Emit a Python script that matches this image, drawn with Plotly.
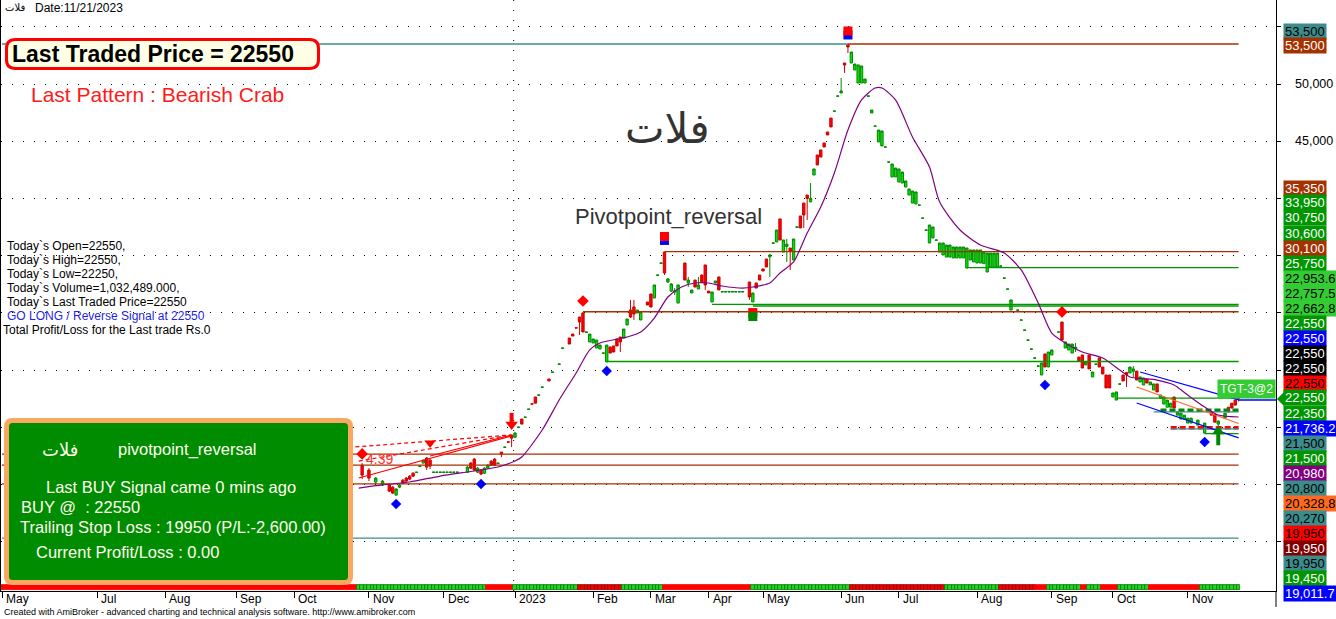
import plotly.graph_objects as go

# ================= DATA =================
bar_no = [
    106, 108, 110, 112, 114, 115, 116, 117, 118, 119,
    120, 121, 122, 123, 124, 125, 126, 127, 128, 129,
    130, 131, 132, 133, 134, 137, 138, 139, 140, 141,
    142, 143, 144, 145, 146, 147, 148, 149, 150, 151,
    152, 153, 154, 155, 156, 157, 158, 159, 161, 162,
    164, 165, 167, 168, 169, 170, 171, 172, 173, 174,
    175, 176, 177, 178, 179, 180, 181, 182, 183, 184,
    185, 186, 187, 188, 190, 191, 192, 193, 194, 195,
    196, 197, 198, 199, 201, 202, 203, 204, 205, 206,
    207, 208, 209, 210, 211, 212, 213, 214, 215, 216,
    217, 218, 220, 221, 222, 223, 224, 225, 226, 227,
    228, 229, 230, 231, 232, 233, 234, 235, 236, 237,
    238, 239, 240, 241, 242, 243, 244, 245, 246, 247,
    248, 249, 250, 251, 252, 253, 254, 255, 256, 257,
    258, 259, 260, 261, 262, 263, 264, 265, 266, 267,
    268, 269, 270, 271, 272, 273, 274, 275, 276, 277,
    278, 279, 280, 281, 282, 283, 284, 285, 286, 287,
    288, 289, 290, 291, 292, 293, 294, 295, 296, 297,
    299, 300, 301, 302, 303, 304, 305, 306, 307, 308,
    309, 311, 312, 313, 314, 315, 316, 317, 318, 319,
    320, 321, 322, 323, 324, 325, 326, 327, 328, 329,
    330, 331, 332, 333, 334, 335, 336, 337, 338, 339,
    340, 341, 342, 343, 344, 345, 346, 347, 348, 349,
    350, 352, 354, 356, 357, 358, 360, 361, 362, 363,
    364]

open_px = [
    16690, 16260, 15210, 14950, 14950, 14770, 14070, 14770, 15380, 15560,
    15730, 15990, 16040, 16570, 16870, 17310, 17130, 16060, 16060, 16060,
    16060, 16060, 16060, 16060, 16060, 16080, 16870, 17220, 16080, 16260,
    15990, 16430, 17040, 17220, 16840, 17830, 18240, 18730, 19320, 19140,
    19990, 20720, 20860, 21560, 22050, 22650, 22790, 23490, 24220, 24800,
    25500, 26900, 27800, 28150, 28700, 29640, 29990, 28300, 27460, 27370,
    26930, 26840, 26470, 25710, 27020, 27110, 27720, 27890, 27800, 28940,
    30250, 30510, 29990, 29380, 30950, 31650, 31300, 33280, 34330, 35320,
    32700, 31910, 31820, 30860, 34360, 32610, 31740, 32870, 32090, 33310,
    34190, 31910, 30950, 32610, 33140, 31830, 31830, 31830, 31830, 31830,
    31830, 31830, 32700, 30950, 32610, 33310, 33840, 34710, 34900, 36080,
    36200, 38210, 35320, 35800, 35670, 34620, 37480, 38470, 39600, 40300,
    39700, 42050, 43800, 44240, 44850, 45810, 47030, 47620, 48930, 49220,
    51840, 53410, 51840, 51230, 50090, 50090, 50090, 48930, 47470, 46310,
    44940, 44590, 44480, 43170, 41880, 41880, 41440, 41350, 41000, 40300,
    39600, 39520, 39410, 38270, 37220, 36110, 36550, 36350, 35320, 35060,
    34880, 34880, 34800, 34800, 34800, 34800, 33920, 34620, 34450, 34360,
    34360, 34300, 33570, 34010, 34010, 34010, 34080, 33030, 32070, 30250,
    30230, 29360, 28480, 27610, 26820, 26040, 25340, 24570, 26410, 25270,
    26320, 28310, 29200, 26930, 26760, 26490, 26850, 26140, 26320, 25450,
    26320, 24400, 25510, 26060, 25270, 24570, 24570, 22650, 22380, 23770,
    24570, 24800, 24750, 24900, 24910, 23960, 23700, 24220, 23700, 23260,
    23790, 22550, 22030, 21760, 21760, 22650, 21060, 20720, 20720, 20370,
    20370, 20190, 19490, 21330, 21150, 20280, 20800, 21760, 22110, 22380,
    22550]

high_px = [
    16870, 16430, 15650, 15380, 15030, 14860, 14680, 15030, 15470, 15650,
    15820, 16080, 16080, 16610, 17130, 17390, 17220, 16080, 16080, 16080,
    16080, 16080, 16080, 16080, 16080, 16610, 16960, 17310, 16520, 16350,
    16520, 16780, 17130, 17310, 16870, 17830, 18270, 18730, 19320, 19580,
    20020, 20720, 20890, 21590, 22050, 22650, 22820, 23520, 24220, 24830,
    25530, 26930, 27800, 28150, 28700, 29640, 30080, 28330, 28150, 27720,
    27630, 27190, 26490, 27190, 27020, 27110, 27720, 27890, 28590, 29470,
    31130, 31130, 30250, 30080, 30950, 31650, 32440, 33310, 34360, 35320,
    33050, 32610, 32170, 32440, 34360, 33140, 32000, 32870, 33140, 33310,
    34190, 31910, 31820, 32790, 33140, 31850, 31850, 31850, 31850, 31850,
    31850, 31850, 32700, 31740, 32610, 33310, 33840, 34710, 35150, 36110,
    37240, 38210, 36370, 36460, 35670, 36460, 37510, 38470, 39600, 40300,
    41350, 42580, 43800, 44240, 44850, 45810, 47030, 47640, 48960, 50530,
    51840, 53500, 52800, 51750, 51670, 51580, 50440, 48960, 47730, 46330,
    45980, 45900, 44500, 43190, 43010, 42660, 42580, 42310, 41530, 40830,
    40650, 40570, 39430, 38290, 37240, 37680, 37510, 36370, 36110, 36110,
    35930, 35930, 35760, 35760, 35760, 35760, 35670, 35500, 35500, 35500,
    35500, 35300, 35230, 35230, 35230, 35230, 34100, 33050, 32090, 31130,
    30250, 29380, 28500, 27630, 26840, 26060, 25360, 25620, 26410, 26580,
    26760, 28330, 29200, 27460, 27280, 27280, 27370, 26140, 26320, 25710,
    26320, 24830, 25530, 26060, 25270, 24570, 24570, 23000, 23090, 23790,
    24570, 24830, 25270, 25360, 24910, 24400, 24310, 24220, 23960, 23790,
    23790, 22820, 22650, 22380, 22110, 22650, 21330, 21240, 21060, 20800,
    20800, 20630, 20370, 21330, 21150, 20600, 21240, 21760, 22110, 22380,
    22550]

low_px = [
    15470, 15300, 15030, 14860, 14340, 14160, 14070, 14680, 15030, 15210,
    15380, 15650, 16040, 16570, 16870, 16260, 16350, 16060, 16060, 16060,
    16060, 16060, 16060, 16060, 16060, 16000, 16350, 16170, 15990, 15820,
    15910, 16350, 16610, 16610, 16840, 17390, 18240, 18700, 18270, 19050,
    19990, 20280, 20860, 21560, 22030, 22110, 22790, 23490, 24050, 24800,
    25500, 26900, 27280, 27980, 28680, 28070, 28330, 28300, 27460, 27370,
    26930, 26840, 26470, 25710, 26490, 26580, 27110, 26580, 27800, 28940,
    29550, 29380, 29990, 29380, 30690, 30510, 31300, 33280, 34330, 33310,
    32610, 31820, 31560, 30860, 32870, 32260, 31740, 32260, 32090, 32700,
    32000, 31740, 30950, 32610, 32000, 31830, 31830, 31830, 31830, 31830,
    31830, 31830, 31130, 30950, 32170, 32870, 33660, 34010, 33140, 36080,
    36200, 36370, 35320, 34450, 33750, 34620, 37480, 37420, 37420, 38120,
    39690, 42050, 42930, 43620, 44500, 45550, 46250, 47620, 48930, 49220,
    50970, 52710, 51840, 51230, 50090, 50090, 50090, 48930, 47470, 46310,
    44940, 44590, 44480, 43170, 41880, 41880, 41440, 41350, 41000, 40300,
    39600, 39520, 39410, 38270, 37220, 36110, 36550, 36350, 35320, 35060,
    34880, 34880, 34800, 34800, 34800, 34800, 33920, 34620, 34450, 34360,
    34360, 34300, 33570, 34010, 34010, 34010, 34080, 33030, 32070, 30250,
    30230, 29360, 28480, 27610, 26820, 26040, 25340, 24570, 25270, 25270,
    26320, 28310, 27630, 26930, 26760, 26490, 26580, 25800, 25180, 25450,
    25100, 24400, 25510, 25270, 24660, 23440, 23440, 22650, 22380, 23770,
    24050, 23520, 24750, 24400, 24130, 23960, 23700, 23870, 23700, 23260,
    23090, 22550, 22030, 21760, 21760, 21680, 21060, 20720, 20720, 20370,
    20370, 20190, 19490, 21060, 20450, 19320, 20800, 21330, 21680, 21940,
    22250]

close_px = [
    15820, 15560, 15560, 15300, 14420, 14250, 14600, 14950, 15120, 15300,
    15470, 15730, 16080, 16610, 17130, 16520, 16610, 16080, 16080, 16080,
    16080, 16080, 16080, 16080, 16080, 16520, 16430, 16260, 16430, 15910,
    16430, 16690, 16690, 16690, 16870, 17660, 18270, 18700, 19050, 19490,
    20020, 20280, 20890, 21590, 22030, 22110, 22820, 23520, 24050, 24830,
    25530, 26930, 27280, 27980, 28680, 29200, 28330, 28330, 28150, 27720,
    27630, 27190, 26490, 27190, 26490, 26580, 27110, 27460, 28590, 29470,
    29640, 29900, 30250, 30080, 30690, 30510, 32440, 33310, 34360, 33490,
    32960, 32520, 31910, 32440, 32870, 32870, 32000, 32260, 32440, 32700,
    32440, 31740, 31820, 32790, 32000, 31850, 31850, 31850, 31850, 31850,
    31850, 31850, 31390, 31740, 32170, 32870, 33660, 34010, 35060, 36110,
    37240, 36370, 36370, 36000, 35400, 36460, 37510, 37420, 38560, 40000,
    40000, 42580, 42930, 43620, 44500, 45550, 46250, 47640, 48960, 49400,
    51660, 53240, 52800, 51750, 51670, 51580, 50440, 48960, 47730, 46330,
    45980, 45900, 44500, 43190, 43010, 42660, 42580, 42310, 41530, 40830,
    40650, 40570, 39430, 38290, 37240, 37680, 37510, 36370, 36110, 36110,
    35930, 35930, 35760, 35760, 35760, 35760, 35670, 35500, 35500, 35500,
    35500, 35300, 35230, 35230, 35230, 35230, 34100, 33050, 32090, 31130,
    30250, 29380, 28500, 27630, 26840, 26060, 25360, 25620, 25270, 26580,
    26760, 28330, 27630, 27460, 27280, 27280, 27000, 25800, 25180, 25710,
    25100, 24830, 25530, 25270, 24660, 23440, 23440, 23000, 23090, 23790,
    24050, 24600, 25270, 25100, 24130, 24400, 24310, 23870, 23960, 23790,
    23090, 22820, 22650, 22380, 22110, 21680, 21330, 21240, 21060, 20800,
    20800, 20630, 20370, 21060, 20450, 20540, 21240, 21330, 21680, 21940,
    22550]

# month tick positions (bar numbers) and labels
month_bar = [0, 28, 48, 69, 86, 108, 130, 151, 174, 191, 208, 224, 247, 264, 287, 309, 327, 349]
month_lbl = ["May", "Jul", "Aug", "Sep", "Oct", "Nov", "Dec", "2023", "Feb", "Mar",
             "Apr", "May", "Jun", "Jul", "Aug", "Sep", "Oct", "Nov"]
year_bar = 150.6

# price axis: gridline values and the two visible tick labels
grid_vals = [10000, 15000, 20000, 25000, 30000, 35000, 40000, 45000, 50000, 55000]
shown_ticks = [50000, 45000]

# moving average (purple)
ma_bar = [105, 112, 120, 129, 139, 146, 151, 153, 159, 164,
          169, 173, 176, 184, 188, 192, 196, 200, 204, 208,
          212, 218, 221, 226, 229, 233, 237, 241, 245, 249,
          253, 257, 259, 263, 268, 273, 276, 282, 288, 295,
          300, 305, 309, 313, 318, 324, 329, 332, 340, 345,
          349, 354, 358, 364]
ma_val = [14690, 14960, 15220, 15740, 16180, 16530, 17050, 17400, 19760, 22390,
          24750, 26760, 27370, 27890, 28330, 29550, 31390, 32260, 32610, 32610,
          32350, 32170, 32260, 32610, 33490, 34450, 36980, 39250, 42230, 45980,
          48610, 49650, 49650, 48610, 45370, 42750, 39690, 37240, 35930, 35230,
          33750, 30860, 28240, 27370, 26580, 26060, 25010, 24400, 24130, 23700,
          22820, 21770, 21070, 20900]

# horizontal support / resistance levels
level_val = [53500, 53500, 35350, 33950, 30750, 30600, 30100, 25750, 22550, 17650, 16700, 15050, 10320]
level_from = [0, 249, 195, 284, 209, 221, 171, 178, 328, 0, 0, 0, 0]
level_to = [249, 364, 364, 364, 364, 364, 364, 364, 364, 364, 364, 364, 364]
level_kind = ["teal", "brown", "brown", "green", "green", "green", "brown", "green", "green",
              "brown", "brown", "brown", "teal"]

# recent short levels
recent_val = [21500, 19950, 19450, 21340, 19860]
recent_from = [341, 344, 354, 339, 344]
recent_kind = ["gdash", "rdash", "green", "teal", "teal"]

# pattern trend lines (Nov-Dec 2022)
trend_b0 = [105, 126, 104, 105]
trend_v0 = [15570, 17490, 18280, 17050]
trend_b1 = [150, 150, 150, 148]
trend_v1 = [19240, 19330, 19330, 19240]
trend_dash = ["solid", "solid", "4px,3px", "4px,3px"]

# channel lines at the end
chan_b0 = [334, 335, 334]
chan_v0 = [23520, 24830, 22120]
chan_b1 = [364, 364, 364]
chan_v1 = [20330, 22390, 19070]
chan_col = ["#FF6A1F", "#0000FF", "#0000FF"]

# signal markers
pl_bar = [116, 141, 178, 307, 354]
pl_val = [13290, 15040, 24920, 23700, 18710]
ph_bar = [106, 171, 312]
ph_val = [17670, 31040, 30080]
ph2_bar = [126]
ph2_val = [18630]
piv_bar = [195, 249]
piv_red = [36680, 54640]
piv_blue = [36330, 54290]
buybox_bar = [221]
buybox_red = [30030]
buybox_green = [29680]
sell_arrow_bar = [150]
sell_arrow_head = [20250]
sell_arrow_shaft = [20770]
buy_arrow_bar = [358]
buy_arrow_head = [19630]
buy_arrow_shaft = [18980]

# regime strip
regime_start = [0, 105, 143, 151, 170, 183, 195, 221, 250, 278, 294, 305, 308, 318, 320, 324, 329, 338, 353]
regime_state = ["R", "G", "R", "G", "D", "G", "R", "G", "D", "G", "D", "R", "G", "R", "G", "R", "G", "R", "G"]
last_bar = 364

# right-side value labels
label_text = ["53,500", "53,500", "35,350", "33,950", "30,750", "30,600", "30,100", "25,750",
              "22,953.6", "22,757.5", "22,662.8", "22,550", "22,550", "22,550", "22,550", "22,550",
              "22,550", "22,350", "21,736.2", "21,500", "21,500", "20,980", "20,800", "20,328.8",
              "20,270", "19,950", "19,950", "19,950", "19,450", "19,011.7"]
label_bg = ["#3C8C8C", "#A33200", "#A33200", "#009600", "#009600", "#009600", "#A33200", "#009600",
            "#33CC33", "#33CC33", "#33CC33", "#009600", "#0000FF", "#000000", "#000000", "#FF0000",
            "#009600", "#009600", "#0000FF", "#3C8C8C", "#009600", "#800080", "#3C8C8C", "#FF6A1F",
            "#3C8C8C", "#FF0000", "#800000", "#3C8C8C", "#009600", "#0000FF"]
label_fg = ["#000000", "#FFFFFF", "#FFFFFF", "#FFFFFF", "#FFFFFF", "#FFFFFF", "#FFFFFF", "#FFFFFF",
            "#000000", "#000000", "#000000", "#FFFFFF", "#FFFFFF", "#FFFFFF", "#FFFFFF", "#000000",
            "#FFFFFF", "#FFFFFF", "#FFFFFF", "#000000", "#FFFFFF", "#FFFFFF", "#000000", "#000000",
            "#000000", "#000000", "#FFFFFF", "#000000", "#FFFFFF", "#FFFFFF"]

info_lines = ["Today`s Open=22550,", "Today`s High=22550,", "Today`s Low=22250,",
              "Today`s Volume=1,032,489.000,", "Today`s Last Traded Price=22550",
              "GO LONG / Reverse Signal at 22550", "Total Profit/Loss for the Last trade Rs.0"]

# ================= LAYOUT HELPERS =================
W, H = 1336, 619
ML, MR, MT, MB = 1, 60, 0, 28
PW = W - ML - MR
PH = H - MT - MB
SANS = "Liberation Sans, Arial, sans-serif"
ARAB = "DejaVu Sans, Noto Sans, sans-serif"
BROWN, GREEN, TEAL = "#A33200", "#009600", "#3C8C8C"


def px(x):
    return (x - ML) / PW


def py(y):
    return 1 - (y - MT) / PH


def rrect(x0, y0, x1, y1, r):
    return (f"M {px(x0 + r)},{py(y0)} L {px(x1 - r)},{py(y0)} "
            f"Q {px(x1)},{py(y0)} {px(x1)},{py(y0 + r)} L {px(x1)},{py(y1 - r)} "
            f"Q {px(x1)},{py(y1)} {px(x1 - r)},{py(y1)} L {px(x0 + r)},{py(y1)} "
            f"Q {px(x0)},{py(y1)} {px(x0)},{py(y1 - r)} L {px(x0)},{py(y0 + r)} "
            f"Q {px(x0)},{py(y0)} {px(x0 + r)},{py(y0)} Z")


fig = go.Figure()

# ---- regime strip ----
strip_bars = list(range(last_bar + 1))
states = []
for b in strip_bars:
    s = regime_state[0]
    for st, stt in zip(regime_start, regime_state):
        if b >= st:
            s = stt
    states.append(s)
fill_map = {"G": "#22D422", "D": "#EE0000", "R": "#FF0000"}
edge_map = {"G": "#007A00", "D": "#990000", "R": "#FF0000"}
fig.add_trace(go.Bar(x=strip_bars, y=[436] * len(strip_bars), base=5780, width=1.0,
                     marker=dict(color=[fill_map[s] for s in states],
                                 line=dict(color=[edge_map[s] for s in states], width=0.8)),
                     hoverinfo="skip"))

# ---- levels ----
kind_col = {"teal": TEAL, "brown": BROWN, "green": GREEN}
for kind in ["teal", "brown", "green"]:
    xs, ys = [], []
    for i in range(len(level_val)):
        if level_kind[i] == kind:
            xs += [level_from[i], level_to[i], None]
            ys += [level_val[i], level_val[i], None]
    fig.add_trace(go.Scatter(x=xs, y=ys, mode="lines", line=dict(color=kind_col[kind], width=1.3),
                             hoverinfo="skip"))

recent_style = {"gdash": ("#008800", 3.5, "6px,3px"), "rdash": ("#FF0000", 3.5, "6px,3px"),
                "green": (GREEN, 1.3, "solid"), "teal": (TEAL, 1.3, "solid")}
for i in range(len(recent_val)):
    c, w, d = recent_style[recent_kind[i]]
    fig.add_trace(go.Scatter(x=[recent_from[i], last_bar], y=[recent_val[i], recent_val[i]], mode="lines",
                             line=dict(color=c, width=w, dash=d), hoverinfo="skip"))

for i in range(len(chan_b0)):
    fig.add_trace(go.Scatter(x=[chan_b0[i], chan_b1[i]], y=[chan_v0[i], chan_v1[i]], mode="lines",
                             line=dict(color=chan_col[i], width=1.2), hoverinfo="skip"))
fig.add_trace(go.Scatter(x=[chan_b1[1], 375], y=[chan_v1[1], chan_v1[1]], mode="lines",
                         line=dict(color="#0000FF", width=1.5), hoverinfo="skip"))

for i in range(len(trend_b0)):
    fig.add_trace(go.Scatter(x=[trend_b0[i], trend_b1[i]], y=[trend_v0[i], trend_v1[i]], mode="lines",
                             line=dict(color="#FF0000", width=1.2, dash=trend_dash[i]), hoverinfo="skip"))

# ---- moving average ----
fig.add_trace(go.Scatter(x=ma_bar, y=ma_val, mode="lines",
                         line=dict(color="#800080", width=1.2, shape="spline", smoothing=0.7),
                         hoverinfo="skip"))

# ---- candles ----
up_i = [i for i in range(len(bar_no)) if close_px[i] > open_px[i]]
dn_i = [i for i in range(len(bar_no)) if close_px[i] <= open_px[i]]


def sub(lst, idx):
    return [lst[i] for i in idx]


for idx, fill, edge in [(up_i, "#10DD10", "#008A00"), (dn_i, "#FF0000", "#D00000")]:
    style = dict(fillcolor=fill, line=dict(color=edge, width=1))
    fig.add_trace(go.Candlestick(x=sub(bar_no, idx), open=sub(open_px, idx), high=sub(high_px, idx),
                                 low=sub(low_px, idx), close=sub(close_px, idx),
                                 increasing=style, decreasing=style, whiskerwidth=0,
                                 hoverinfo="skip"))

# ---- markers ----
def mk(x, y, symbol, size, color, lw=0, lc=None):
    fig.add_trace(go.Scatter(x=x, y=y, mode="markers", hoverinfo="skip",
                             marker=dict(symbol=symbol, size=size, color=color,
                                         line=dict(width=lw, color=lc or color))))


mk(pl_bar, pl_val, "diamond", 8, "#0000FF")
mk(ph_bar, ph_val, "diamond", 9, "#FF0000")
mk(ph2_bar, ph2_val, "triangle-down", 10, "#FF0000")
mk(piv_bar, piv_blue, "square", 9, "#0000FF")
mk(piv_bar, piv_red, "square", 9, "#FF0000")
mk(buybox_bar, buybox_red, "square", 9, "#FF0000")
mk(buybox_bar, buybox_green, "square", 9, "#008800")
mk(sell_arrow_bar, sell_arrow_shaft, "line-ns", 8, "#FF0000", 4, "#FF0000")
mk(sell_arrow_bar, sell_arrow_head, "triangle-down", 11, "#FF0000")
mk(buy_arrow_bar, buy_arrow_shaft, "line-ns", 9, "#008800", 4, "#008800")
mk(buy_arrow_bar, buy_arrow_head, "triangle-up", 11, "#008800")

# ---- shapes ----
shapes = [
    dict(type="line", xref="x", yref="paper", x0=year_bar, x1=year_bar, y0=0, y1=1,
         line=dict(color="black", width=1, dash="1px,9px"), layer="below"),
    dict(type="line", xref="paper", yref="paper", x0=px(1276), x1=px(1276), y0=py(591), y1=py(607),
         line=dict(color="black", width=1)),
    dict(type="path", xref="paper", yref="paper", path=rrect(6.5, 39.5, 318.5, 68.5, 9),
         fillcolor="#FFFFE6", line=dict(color="#FF0000", width=3), layer="above"),
    dict(type="path", xref="paper", yref="paper", path=rrect(6.5, 420.5, 350.5, 582.5, 6),
         fillcolor="#008C00", line=dict(color="#F8A860", width=5), layer="above"),
    dict(type="path", xref="paper", yref="paper",
         path=f"M {px(1277)},{py(399)} L {px(1284)},{py(392)} L {px(1284)},{py(406)} Z",
         fillcolor=GREEN, line=dict(width=0), layer="above"),
]

# ---- annotations ----
ann = []


def note(text, x, y, size, color, family=SANS, anchor="left", bg=None, pad=0, height=None):
    d = dict(text=text, xref="paper", yref="paper", x=px(x), y=py(y), xanchor=anchor,
             yanchor="middle", showarrow=False, font=dict(size=size, color=color, family=family),
             borderpad=pad)
    if bg:
        d["bgcolor"] = bg
    if height:
        d["height"] = height
    ann.append(d)


note("فلات", 4, 8, 10, "black", ARAB)
note("Date:11/21/2023", 34, 8, 12, "black")
note("<b>Last Traded Price = 22550</b>", 11, 54, 23, "black")
note("Last Pattern : Bearish Crab", 30, 95, 21, "#FF1A1A")
note("فلات", 667, 128, 42, "#333333", ARAB, anchor="center")
note("Pivotpoint_reversal", 574, 216, 22, "#333333")
for i, t in enumerate(info_lines):
    col = "#1F1FE8" if t.startswith("GO LONG") else "black"
    note(t, 2 if t.startswith("Total") else 6, 246 + 14 * i, 12, col)

box_fg = "#FFFFEE"
note("فلات", 60, 449, 18, box_fg, ARAB, anchor="center")
note("pivotpoint_reversal", 117, 449, 16.5, box_fg)
note("Last BUY Signal came 0 mins ago", 45, 487, 16.5, box_fg)
note("BUY @\u00a0 : 22550", 20, 507, 16.5, box_fg)
note("Trailing Stop Loss : 19950 (P/L:-2,600.00)", 19, 527, 16.5, box_fg)
note("Current Profit/Loss : 0.00", 35, 552, 16.5, box_fg)

note("Created with AmiBroker - advanced charting and technical analysis software. http://www.amibroker.com",
     3, 612, 9, "black")

# month labels
for b, t in zip(month_bar, month_lbl):
    ann.append(dict(text=t, xref="x", yref="paper", x=b, y=py(599), xanchor="left", yanchor="middle",
                    xshift=2, showarrow=False, font=dict(size=12, color="black", family=SANS)))

# visible price-axis tick labels
for v in shown_ticks:
    ann.append(dict(text=f"{v:,}", xref="paper", yref="y", x=px(1293), y=v, xanchor="left",
                    yanchor="middle", showarrow=False, font=dict(size=12.5, color="black", family=SANS)))

# "4.39" label
ann.append(dict(text="4.39", xref="x", yref="y", x=111, y=17230, showarrow=False,
                font=dict(size=14, color="#FF3030", family=SANS)))

# TGT label
note("TGT-3@2", 1276, 389, 12, "white", anchor="right", bg="#33CC33", pad=2)

# right value labels (stacked)
label_y = [31, 46] + [188 + 15 * i for i in range(len(label_text) - 2)]
for t, bg, fg, yy in zip(label_text, label_bg, label_fg, label_y):
    note(t, 1283, yy, 13, fg, bg=bg, pad=1, height=13)

fig.update_layout(
    width=W, height=H, margin=dict(l=ML, r=MR, t=MT, b=MB),
    plot_bgcolor="white", paper_bgcolor="white", showlegend=False,
    font=dict(family=SANS, size=12, color="black"),
    boxgap=0.0, bargap=0,
    shapes=shapes, annotations=ann,
    xaxis=dict(range=[-0.3, 375], tickvals=month_bar, showticklabels=False, ticks="outside",
               ticklen=6, tickcolor="black", showline=True, mirror=True, linecolor="black",
               linewidth=1, showgrid=False, zeroline=False, rangeslider=dict(visible=False),
               fixedrange=True),
    yaxis=dict(side="right", range=[5692, 57346], tickvals=grid_vals, showticklabels=False,
               ticks="outside", ticklen=4, tickcolor="black", showline=True,
               mirror=True, linecolor="black", linewidth=1, showgrid=True, gridcolor="black",
               griddash="1px,10px", gridwidth=1, zeroline=False),
)

fig.write_html("out.html", config={"displayModeBar": False},
               post_script="document.body.style.margin='0';document.body.style.overflow='hidden';")
